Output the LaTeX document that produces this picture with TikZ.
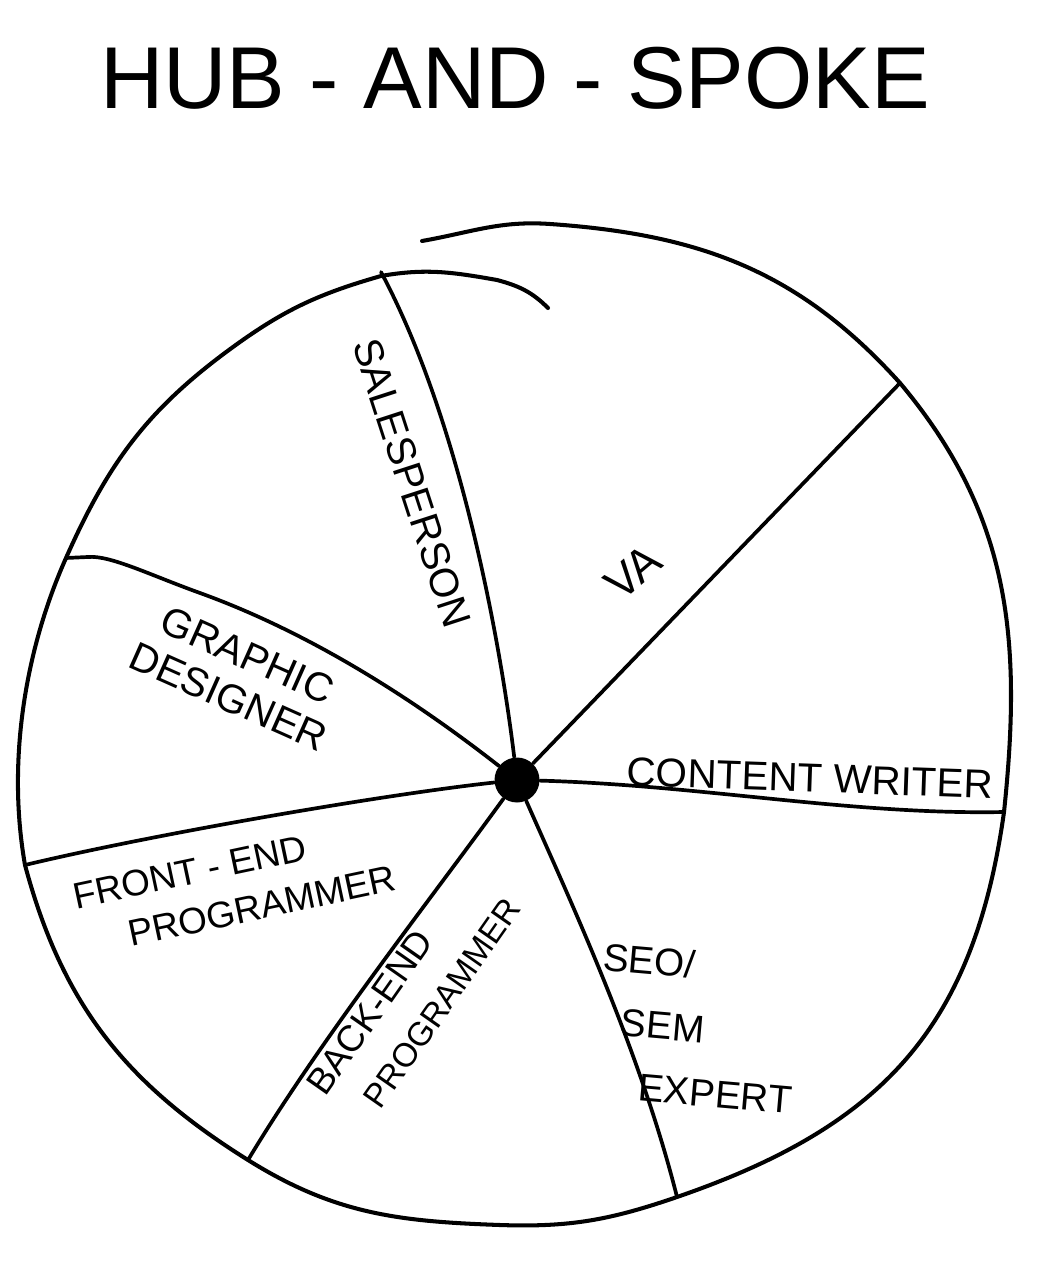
\documentclass[tikz,border=0pt]{standalone}
\usepackage{fontspec}
\setmainfont{Liberation Sans}
\usetikzlibrary{positioning}
\tikzset{rim/.style={line width=2.3pt, line join=round, line cap=round}}
\tikzset{spoke/.style={line width=2.1pt, line cap=round}}
\tikzset{hub/.style={circle, fill=black, minimum size=0.9cm, inner sep=0pt}}
\tikzset{
	role/.style={font=\fontsize{23}{23}\selectfont, inner sep=0pt, align=center},
	role small/.style={role, font=\fontsize{21}{21}\selectfont}
}

\begin{document}
\begin{tikzpicture}[x=0.02cm, y=-0.02cm, semithick]
			\useasboundingbox (0,0) rectangle (1044,1266);
			\node[font=\fontsize{50}{50}\selectfont] (title) at (515,78) {HUB - AND - SPOKE};
			\node[hub] (hub) at (517,780) {};
			% where the spokes meet the rim
			\coordinate (salesRim) at (381,276);
			\coordinate (vaRim) at (900,383);
			\coordinate (writerRim) at (1004,812);
			\coordinate (seoRim) at (677,1197);
			\coordinate (backRim) at (248,1160);
			\coordinate (frontRim) at (25,865);
			\coordinate (graphRim) at (66,558);
			\draw[rim] (422,241) to[out=10,in=176] (550,224) to[out=-4,in=132] (vaRim)
				to[out=-50,in=84] (writerRim) to[out=-98,in=19,looseness=1.1] (seoRim)
				to[out=199,in=-2] (500,1225) to[out=178,in=-32] (backRim)
				to[out=148,in=-75] (frontRim) to[out=100,in=-114,looseness=0.85] (graphRim)
				to[out=66,in=-144] (233,347) to[out=36,in=-164] (salesRim)
				to[out=10,in=170] (497,280) to[out=-15,in=135] (548,308);
			\draw[spoke] (hub) .. controls (500,640) and (460,420) .. (381,272);
			\draw[spoke] (hub) -- (vaRim);
			\draw[spoke] (hub) .. controls (700,785) and (850,815) .. (writerRim);
			\draw[spoke] (hub) .. controls (570,900) and (640,1050) .. (seoRim);
			\draw[spoke] (hub) .. controls (430,900) and (320,1040) .. (backRim);
			\draw[spoke] (hub) .. controls (380,795) and (150,835) .. (frontRim);
			\draw[spoke] (hub) .. controls (440,720) and (330,640) .. (200,593)
				.. controls (150,575) and (110,555) .. (88,557) -- (graphRim);
			\node[role, rotate=-72] (sales) at (412,483) {SALESPERSON};
			\node[role, rotate=40, font=\fontsize{26}{26}\selectfont] (va) at (633,572) {VA};
			\node[role, rotate=-24, font=\fontsize{23}{26}\selectfont] (graphic) at (238,676) {GRAPHIC\\DESIGNER};
			\node[role, rotate=-2] (writer) at (810,778) {CONTENT WRITER};
			\node[role small, rotate=12] (frontA) at (190,872) {FRONT - END};
			\node[role small, rotate=12] (frontB) at (262,906) {PROGRAMMER};
			\node[role small, rotate=55] (backA) at (370,1012) {BACK-END};
			\node[role small, rotate=55, font=\fontsize{19}{19}\selectfont] (backB) at (442,1003) {PROGRAMMER};
			\node[role, align=left, anchor=north west, rotate=-5, font=\fontsize{22}{36}\selectfont] (seo) at (604,942)
				{SEO/\\\hspace*{0.6em}SEM\\\hspace*{1.2em}EXPERT};
\end{tikzpicture}
\end{document}
